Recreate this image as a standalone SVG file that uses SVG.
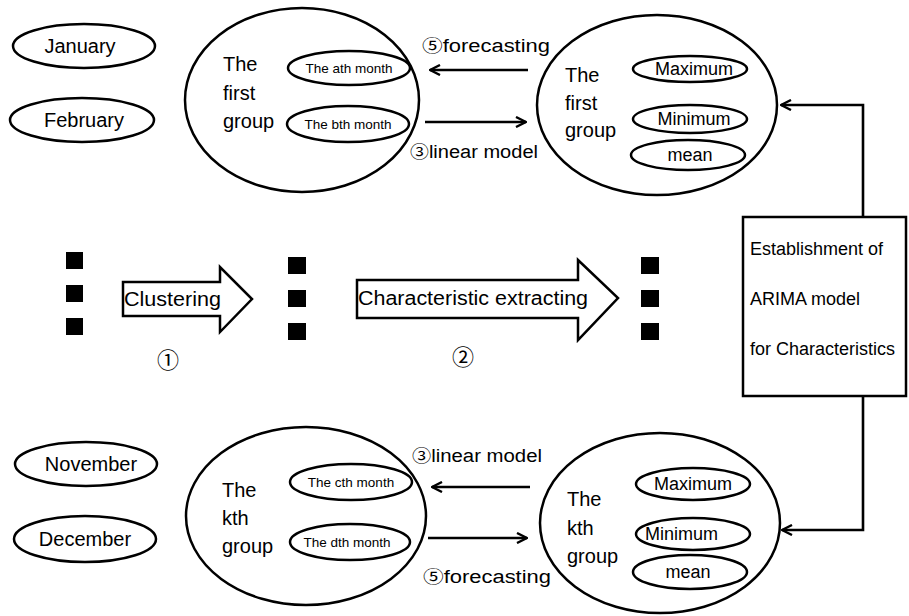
<svg xmlns="http://www.w3.org/2000/svg" width="909" height="616" viewBox="0 0 909 616">
<defs>
<style>
.e{fill:none;stroke:#000;stroke-width:2.5}
.t{font-family:"Liberation Sans",Arial,sans-serif;fill:#000}
.m{font-size:20px}
.g{font-size:20px}
.s{font-size:13.5px}
.f{font-size:18px}
.c{font-family:"Noto Sans CJK JP","DejaVu Sans",sans-serif;font-size:17px;fill:#000}
.big{font-size:22px}
.ln{fill:none;stroke:#000;stroke-width:2.6}
.blk{fill:#fff;stroke:#000;stroke-width:2.5}
.sq{fill:#000}
</style>
<marker id="ah" viewBox="0 0 12 12" refX="11" refY="6" markerWidth="12" markerHeight="12" markerUnits="userSpaceOnUse" orient="auto">
<polyline points="1,1 11,6 1,11" fill="none" stroke="#000" stroke-width="2.4"/>
</marker>
</defs>
<rect width="909" height="616" fill="#fff"/>

<g id="january"><ellipse class="e" cx="84" cy="46" rx="71" ry="22"/><text class="t m" x="80" y="53" text-anchor="middle">January</text></g>
<g id="february"><ellipse class="e" cx="82" cy="120" rx="72" ry="22"/><text class="t m" x="84" y="127" text-anchor="middle">February</text></g>
<g id="november"><ellipse class="e" cx="86" cy="464" rx="71" ry="22"/><text class="t m" x="91" y="471" text-anchor="middle">November</text></g>
<g id="december"><ellipse class="e" cx="85" cy="539" rx="71" ry="23"/><text class="t m" x="85" y="546" text-anchor="middle">December</text></g>

<g id="group1-months">
<ellipse class="e" cx="302" cy="100" rx="117" ry="92"/>
<text class="t g" x="223" y="71">The</text>
<text class="t g" x="223" y="100">first</text>
<text class="t g" x="223" y="128">group</text>
<ellipse class="e" cx="349" cy="68" rx="61" ry="17"/>
<text class="t s" x="349" y="73" text-anchor="middle">The ath month</text>
<ellipse class="e" cx="348" cy="124" rx="61" ry="18"/>
<text class="t s" x="348" y="129" text-anchor="middle">The bth month</text>
</g>

<g id="group1-chars">
<ellipse class="e" cx="657" cy="105" rx="120" ry="90"/>
<text class="t g" x="565" y="82">The</text>
<text class="t g" x="565" y="110">first</text>
<text class="t g" x="565" y="137">group</text>
<ellipse class="e" cx="690" cy="69" rx="57" ry="13"/>
<text class="t f" x="694" y="75" text-anchor="middle">Maximum</text>
<ellipse class="e" cx="690" cy="119" rx="57" ry="14"/>
<text class="t f" x="694" y="125" text-anchor="middle">Minimum</text>
<ellipse class="e" cx="688" cy="155" rx="57" ry="15"/>
<text class="t f" x="690" y="161" text-anchor="middle">mean</text>
</g>

<g id="groupk-months">
<ellipse class="e" cx="306" cy="516" rx="120" ry="89"/>
<text class="t g" x="222" y="497">The</text>
<text class="t g" x="222" y="525">kth</text>
<text class="t g" x="222" y="553">group</text>
<ellipse class="e" cx="351" cy="482" rx="61" ry="18"/>
<text class="t s" x="351" y="487" text-anchor="middle">The cth month</text>
<ellipse class="e" cx="350" cy="542" rx="60" ry="18"/>
<text class="t s" x="347" y="547" text-anchor="middle">The dth month</text>
</g>

<g id="groupk-chars">
<ellipse class="e" cx="660" cy="523" rx="120" ry="90"/>
<text class="t g" x="567" y="506">The</text>
<text class="t g" x="567" y="535">kth</text>
<text class="t g" x="567" y="563">group</text>
<ellipse class="e" cx="693" cy="484" rx="57" ry="16"/>
<text class="t f" x="693" y="490" text-anchor="middle">Maximum</text>
<ellipse class="e" cx="693" cy="534" rx="57" ry="16"/>
<text class="t f" x="645" y="540">Minimum</text>
<ellipse class="e" cx="690" cy="572" rx="57" ry="17"/>
<text class="t f" x="688" y="578" text-anchor="middle">mean</text>
</g>

<g id="arima-box">
<rect x="743" y="217" width="163" height="179" fill="#fff" stroke="#000" stroke-width="2.5"/>
<text class="t f" x="750" y="255">Establishment of</text>
<text class="t f" x="750" y="305">ARIMA model</text>
<text class="t f" x="750" y="355">for Characteristics</text>
</g>

<g id="dots">
<rect class="sq" x="66" y="252" width="17" height="17"/>
<rect class="sq" x="66" y="285" width="17" height="17"/>
<rect class="sq" x="66" y="318" width="17" height="17"/>
<rect class="sq" x="288" y="257" width="18" height="17"/>
<rect class="sq" x="288" y="290" width="18" height="17"/>
<rect class="sq" x="288" y="323" width="18" height="17"/>
<rect class="sq" x="641" y="257" width="18" height="17"/>
<rect class="sq" x="641" y="290" width="18" height="17"/>
<rect class="sq" x="641" y="323" width="18" height="17"/>
</g>

<g id="step-arrows">
<polygon class="blk" points="123,282 220,282 220,267 252,299 220,332 220,316 123,316"/>
<text class="t m" x="124" y="306" textLength="97" lengthAdjust="spacingAndGlyphs">Clustering</text>
<text class="c big" x="168" y="368" text-anchor="middle">①</text>
<polygon class="blk" points="357,280 578,280 578,260 618,298 578,340 578,318 357,318"/>
<text class="t m" x="358" y="305" textLength="230" lengthAdjust="spacingAndGlyphs">Characteristic extracting</text>
<text class="c big" x="463" y="365" text-anchor="middle">②</text>
</g>

<g id="connectors">
<line class="ln" x1="528" y1="70" x2="430" y2="70" marker-end="url(#ah)"/>
<line class="ln" x1="425" y1="122" x2="526" y2="122" marker-end="url(#ah)"/>
<line class="ln" x1="530" y1="487" x2="432" y2="487" marker-end="url(#ah)"/>
<line class="ln" x1="428" y1="538" x2="527" y2="538" marker-end="url(#ah)"/>
<polyline class="ln" points="863,217 863,105 781,105" marker-end="url(#ah)"/>
<polyline class="ln" points="863,396 863,530 782,530" marker-end="url(#ah)"/>
</g>

<g id="connector-labels">
<text x="422" y="52" textLength="128" lengthAdjust="spacingAndGlyphs"><tspan class="c">⑤</tspan><tspan class="t f">forecasting</tspan></text>
<text x="410" y="158" textLength="128" lengthAdjust="spacingAndGlyphs"><tspan class="c">③</tspan><tspan class="t f">linear  model</tspan></text>
<text x="412" y="462" textLength="130" lengthAdjust="spacingAndGlyphs"><tspan class="c">③</tspan><tspan class="t f">linear  model</tspan></text>
<text x="423" y="583" textLength="128" lengthAdjust="spacingAndGlyphs"><tspan class="c">⑤</tspan><tspan class="t f">forecasting</tspan></text>
</g>
</svg>
